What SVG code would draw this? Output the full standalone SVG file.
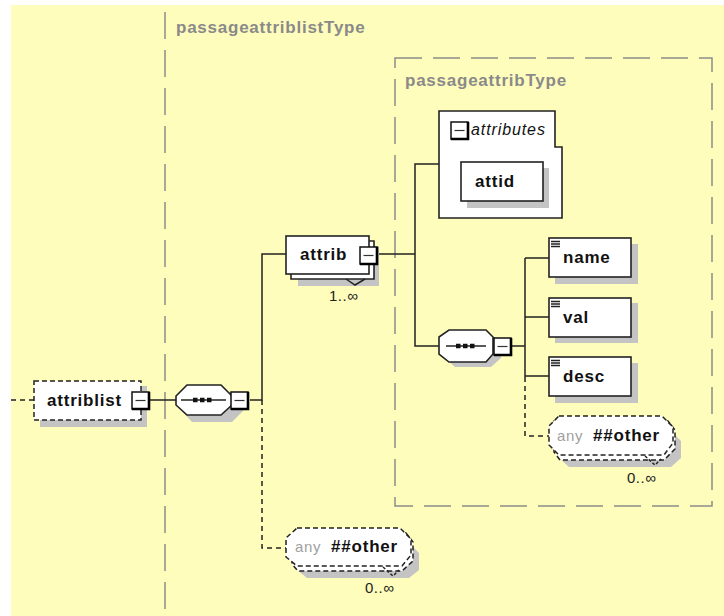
<svg xmlns="http://www.w3.org/2000/svg" width="724" height="616" viewBox="0 0 724 616">
<defs>
<style>
text{font-family:"Liberation Sans",Arial,sans-serif;fill:#111}
.b{font-weight:bold;font-size:17px;letter-spacing:.8px}
.t{font-weight:bold;font-size:17px;letter-spacing:.76px;fill:#8a8a8a}
.o{font-size:15px;letter-spacing:.5px;fill:#222}
.y{font-size:15px;letter-spacing:.6px;fill:#a0a0a0}
.bx{fill:#fff;stroke:#222;stroke-width:1.6}
.d{fill:#fff;stroke:#222;stroke-width:1.5;stroke-dasharray:5 3}
.s{fill:#c4c4c4}
.c{fill:none;stroke:#222;stroke-width:1.5}
.cd{fill:none;stroke:#222;stroke-width:1.5;stroke-dasharray:5 4}
.g{fill:none;stroke:#8c8c8c;stroke-width:1.5;stroke-dasharray:27 11}
.m{fill:#fff;stroke:#111;stroke-width:1.5}
.mb{fill:none;stroke:#000;stroke-width:2.6}
</style>
<g id="minus"><rect class="m" x="0" y="0" width="17" height="17"/><path class="mb" d="M17 0V17H0"/><path d="M3.500 8.500H13.500" stroke="#333" stroke-width="1.200"/></g>
<g id="lines"><path d="M0 0.500H9M0 3H9M0 5.500H9" stroke="#222" stroke-width="1.300"/></g>
</defs>
<rect width="724" height="616" fill="#fff"/>
<rect x="11" y="5" width="713" height="611" fill="#fffdbb"/>
<g id="containers">
<path class="g" d="M165 12V616"/>
<path class="g" d="M395 58H712V506H395Z"/>
<text class="t" x="176" y="33">passageattriblistType</text>
<text class="t" x="405" y="86">passageattribType</text>
</g>
<g id="connectors">
<path class="cd" d="M11 400H34"/>
<path class="c" d="M150 400H176M250 400H262V254H286"/>
<path class="cd" d="M262 400V548H288"/>
<path class="c" d="M379 254H415V164H439M415 254V346H439M511 346H525M525 258H549M525 317H549M525 376H549M525 258V382"/>
<path class="cd" d="M525 386V436H549"/>
</g>
<g id="attriblist">
<rect class="s" x="40" y="386" width="107" height="41"/>
<rect class="d" x="34" y="381" width="107" height="39"/>
<text class="b" x="47" y="406">attriblist</text>
<use href="#minus" x="132" y="392"/>
</g>
<g id="sequence1">
<path class="s" d="M192 392H232L243 403V411L232 422H192L182 411V403Z"/>
<path class="bx" d="M187 385H221L232 396V405L221 415H187L176 405V396Z"/>
<path d="M181 400H226" stroke="#222" stroke-width="1.500"/><path d="M193 400h4.500M200 400h4.500M207 400h4.500" stroke="#111" stroke-width="4.500"/>
<use href="#minus" x="231" y="392"/>
</g>
<g id="attrib">
<rect class="s" x="298" y="246" width="81" height="40"/>
<path class="bx" d="M291 241H374V279H291Z"/>
<path class="c" d="M346 279L355 285L365 279"/>
<rect class="bx" x="286" y="236" width="83" height="38"/>
<text class="b" x="300" y="260">attrib</text>
<use href="#minus" x="360" y="247"/>
<text class="o" x="329" y="301">1..∞</text>
</g>
<g id="attributes">
<path class="bx" d="M439 111H555V147H562V218H439Z"/>
<rect class="s" x="467" y="168" width="82" height="40"/>
<rect class="bx" x="461" y="162" width="82" height="39"/>
<use href="#minus" x="451" y="122"/>
<text x="471" y="135" font-size="16" font-style="italic" letter-spacing=".9" fill="#222">attributes</text>
<text class="b" x="475" y="187">attid</text>
</g>
<g id="sequence2">
<path class="s" d="M455 337H495L501 343V358L491 367H455L445 358V343Z"/>
<path class="bx" d="M449 330H486L493 337V354L486 362H449L439 354V337Z"/>
<path d="M446 346H486" stroke="#222" stroke-width="1.500"/><path d="M456 346h4.500M463 346h4.500M470 346h4.500" stroke="#111" stroke-width="4.500"/>
<use href="#minus" x="494" y="338"/>
</g>
<g id="name">
<rect class="s" x="555" y="244" width="83" height="40"/>
<rect class="bx" x="549" y="238" width="82" height="39"/>
<use href="#lines" x="551" y="241"/>
<text class="b" x="563" y="263">name</text>
</g>
<g id="val">
<rect class="s" x="555" y="303" width="83" height="40"/>
<rect class="bx" x="549" y="298" width="82" height="39"/>
<use href="#lines" x="551" y="301"/>
<text class="b" x="563" y="323">val</text>
</g>
<g id="desc">
<rect class="s" x="555" y="363" width="83" height="40"/>
<rect class="bx" x="549" y="357" width="82" height="39"/>
<use href="#lines" x="551" y="360"/>
<text class="b" x="563" y="382">desc</text>
</g>
<g id="any1">
<path class="s" d="M563 430H670L681 441V458L671 467H569L559 458V441Z"/>
<path class="d" d="M554 421H668L675 430V449L664 460H560L554 452Z"/>
<path class="d" d="M559 416H662L673 427V443L664 455H559L549 445V426Z"/>
<path class="c" stroke-dasharray="3 2" d="M645 456L655 465L661 459"/>
<text class="y" x="557" y="441">any</text>
<text class="b" x="593" y="441">##other</text>
<text class="o" x="627" y="483">0..∞</text>
</g>
<g id="any2">
<path class="s" d="M301 542H408L419 553V570L409 578H307L297 570V553Z"/>
<path class="d" d="M293 533H406L413 542V561L402 571H298L292 564Z"/>
<path class="d" d="M297 528H400L411 539V555L402 566H297L286 557V538Z"/>
<path class="c" stroke-dasharray="3 2" d="M383 567L393 576L399 570"/>
<text class="y" x="295" y="552">any</text>
<text class="b" x="331" y="552">##other</text>
<text class="o" x="365" y="593">0..∞</text>
</g>
</svg>
